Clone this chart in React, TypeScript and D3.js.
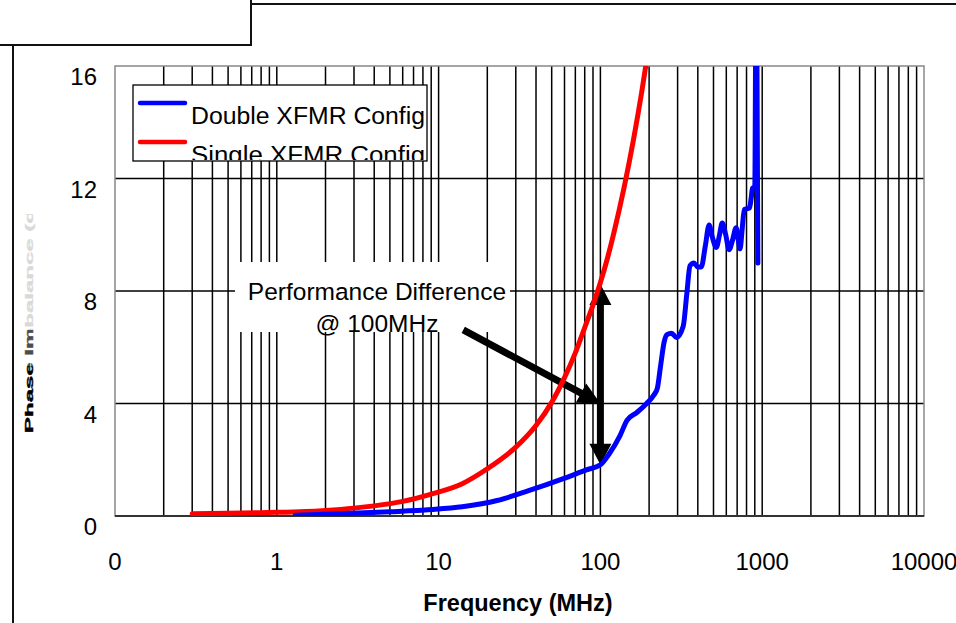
import * as d3 from 'd3';

// Single XFMR Config (red)
const singleFreq = [0.3, 0.5, 0.8, 1, 1.5, 2, 3, 4, 6, 9, 14, 20, 30, 40, 50, 60, 70, 80, 90, 100, 110, 120, 140, 160, 180, 200];
const singleValue = [0.08, 0.1, 0.12, 0.13, 0.16, 0.2, 0.28, 0.36, 0.52, 0.78, 1.15, 1.68, 2.45, 3.22, 4.04, 4.92, 5.8, 6.7, 7.5, 8.3, 9.12, 9.97, 11.67, 13.37, 15.07, 16.77];

// Double XFMR Config (blue)
const doubleFreq = [
  1.3, 2, 5, 9, 14, 23, 36, 59, 82, 100, 114, 132, 146, 168, 193, 214, 225, 235, 248, 258,
  275, 295, 325, 342, 358, 378, 400, 420, 445, 470, 490, 521, 545, 566, 595, 624, 655, 690,
  710, 730, 752, 775, 834, 855, 870, 900, 915, 925, 940,
];
const doubleValue = [
  0.03, 0.06, 0.15, 0.23, 0.33, 0.55, 0.9, 1.33, 1.64, 1.82, 2.23, 2.85, 3.4, 3.68, 4.0, 4.3, 4.55, 5.3, 6.2, 6.45,
  6.5, 6.35, 6.75, 7.9, 8.9, 9.0, 8.85, 8.85, 9.6, 10.35, 9.95, 9.55, 10.0, 10.42, 10.0, 9.47, 9.8, 10.25,
  9.85, 9.5, 10.2, 10.9, 10.95, 11.3, 11.65, 11.7, 18, 18, 9.0,
];

const yTicks = [0, 4, 8, 12, 16];
const xTickValues = [0.1, 1, 10, 100, 1000, 10000];
const xTickLabels = ['0', '1', '10', '100', '1000', '10000'];
const seriesNames = ['Double XFMR Config', 'Single XFMR Config'];
const seriesColors = ['#0000ff', '#ff0000'];

// annotation anchors in data units [freq, value]
const noteText = ['Performance Difference', '@ 100MHz'];
const noteAt: [number, number] = [4.16, 8];
const diffArrow: [number, number][] = [[100, 8.25], [100, 1.82]];
const pointerArrow: [number, number][] = [[14.2, 6.62], [100, 4.0]];

const W = 956;
const H = 623;
const FONT = '"Liberation Sans", Arial, Helvetica, sans-serif';

function arrowPath(
  a: [number, number],
  b: [number, number],
  shaft: number,
  headLen: number,
  headW: number,
  doubleHead: boolean
) {
  const dx = b[0] - a[0];
  const dy = b[1] - a[1];
  const len = Math.hypot(dx, dy);
  const ux = dx / len;
  const uy = dy / len;
  const px = -uy;
  const py = ux;
  const s0 = doubleHead ? headLen : 0;
  const s1 = len - headLen;
  const pt = (t: number, w: number) => `${a[0] + ux * t + px * w},${a[1] + uy * t + py * w}`;
  let d = `M${pt(s0, -shaft / 2)}L${pt(s1, -shaft / 2)}L${pt(s1, -headW / 2)}L${pt(len, 0)}L${pt(s1, headW / 2)}L${pt(s1, shaft / 2)}L${pt(s0, shaft / 2)}`;
  if (doubleHead) {
    d += `L${pt(s0, headW / 2)}L${pt(0, 0)}L${pt(s0, -headW / 2)}`;
  }
  return d + 'Z';
}

export default function App() {
  const left = 115;
  const right = 924;
  const top = 66;
  const bottom = 516;

  const x = d3.scaleLog().domain([0.1, 10000]).range([left, right]);
  const y = d3.scaleLinear().domain([0, 16]).range([bottom, top]);

  const line = d3
    .line<[number, number]>()
    .x((d) => x(d[0]))
    .y((d) => y(d[1]))
    .curve(d3.curveMonotoneX);

  const single = singleFreq.map((f, i) => [f, singleValue[i]] as [number, number]);
  const double = doubleFreq.map((f, i) => [f, doubleValue[i]] as [number, number]);

  const gridX = x.ticks().filter((t) => t > 0.1 && t < 10000);
  const px = (p: [number, number]): [number, number] => [x(p[0]), y(p[1])];

  const noteX = x(noteAt[0]);
  const noteY = y(noteAt[1]);

  return (
    <svg
      width={W}
      height={H}
      viewBox={`0 0 ${W} ${H}`}
      style={{ position: 'absolute', left: 0, top: 0, background: '#fff' }}
      fontFamily={FONT}
    >
      <defs>
        <clipPath id="plot-clip">
          <rect x={left} y={top} width={right - left} height={bottom - top} />
        </clipPath>
        <clipPath id="legend-clip">
          <rect x={134} y={86} width={292} height={74} />
        </clipPath>
        <clipPath id="ytitle-clip">
          <rect x={0} y={214} width={60} height={230} />
        </clipPath>
      </defs>

      {/* page frame pieces */}
      <g stroke="#111" strokeWidth={2} fill="none">
        <path d="M0,45H251V0" />
        <path d="M251,4H956" />
        <path d="M13,45V623" />
      </g>

      {/* gridlines */}
      <g stroke="#000" strokeWidth={1.5}>
        {gridX.map((t) => (
          <line key={`gx${t}`} x1={x(t)} x2={x(t)} y1={top} y2={bottom} />
        ))}
        {yTicks
          .filter((t) => t > 0 && t < 16)
          .map((t) => (
            <line key={`gy${t}`} x1={left} x2={right} y1={y(t)} y2={y(t)} />
          ))}
      </g>
      <rect x={left} y={top} width={right - left} height={bottom - top} fill="none" stroke="#888" strokeWidth={1.5} />
      <line x1={left} x2={right} y1={bottom} y2={bottom} stroke="#333" strokeWidth={2} />

      {/* y tick labels */}
      <g fontSize={24} fill="#000" textAnchor="end">
        {yTicks.map((t) => (
          <text key={`yl${t}`} x={97} y={y(t) + 19}>
            {t}
          </text>
        ))}
      </g>

      {/* x tick labels */}
      <g fontSize={24} fill="#000" textAnchor="middle">
        {xTickValues.map((t, i) => (
          <text key={`xl${t}`} x={x(t)} y={570}>
            {xTickLabels[i]}
          </text>
        ))}
      </g>

      <text x={518} y={611} fontSize={23.5} fontWeight="bold" textAnchor="middle">
        Frequency (MHz)
      </text>

      {/* squashed, partly faded y title */}
      <g clipPath="url(#ytitle-clip)">
        <text
          transform="translate(33,433) rotate(-90) scale(1,0.48)"
          fontSize={24}
          fontWeight="bold"
          textAnchor="start"
          stroke="#000"
          strokeWidth={0.8}
        >
          Phase Imbalance (deg)
        </text>
      </g>
      <rect x={18} y={330} width={24} height={36} fill="#fff" opacity={0.3} />
      <rect x={18} y={210} width={24} height={120} fill="#fff" opacity={0.85} />

      {/* annotation box */}
      <rect x={235} y={262} width={275} height={70} fill="#fff" />
      <g fontSize={24.5} textAnchor="middle" fill="#000">
        <text x={noteX} y={noteY + 9}>
          {noteText[0]}
        </text>
        <text x={noteX} y={noteY + 41}>
          {noteText[1]}
        </text>
      </g>

      {/* arrows */}
      <path d={arrowPath(px(diffArrow[0]), px(diffArrow[1]), 7, 21, 22, true)} fill="#000" />
      <path d={arrowPath(px(pointerArrow[0]), px(pointerArrow[1]), 7, 22, 22, false)} fill="#000" />

      {/* series */}
      <g clipPath="url(#plot-clip)" fill="none" strokeWidth={5} strokeLinejoin="round" strokeLinecap="round">
        <path d={line(single) ?? ''} stroke={seriesColors[1]} />
        <path d={line(double) ?? ''} stroke={seriesColors[0]} />
      </g>

      {/* legend */}
      <rect x={133} y={85} width={294} height={76} fill="#fff" stroke="#000" strokeWidth={1.3} />
      <g clipPath="url(#legend-clip)">
        {seriesNames.map((name, i) => (
          <g key={name}>
            <line
              x1={140}
              x2={185}
              y1={103 + i * 39}
              y2={103 + i * 39}
              stroke={seriesColors[i]}
              strokeWidth={4.5}
              strokeLinecap="round"
            />
            <text x={191} y={124 + i * 39} fontSize={23} textLength={234} lengthAdjust="spacingAndGlyphs">
              {name}
            </text>
          </g>
        ))}
      </g>
    </svg>
  );
}
